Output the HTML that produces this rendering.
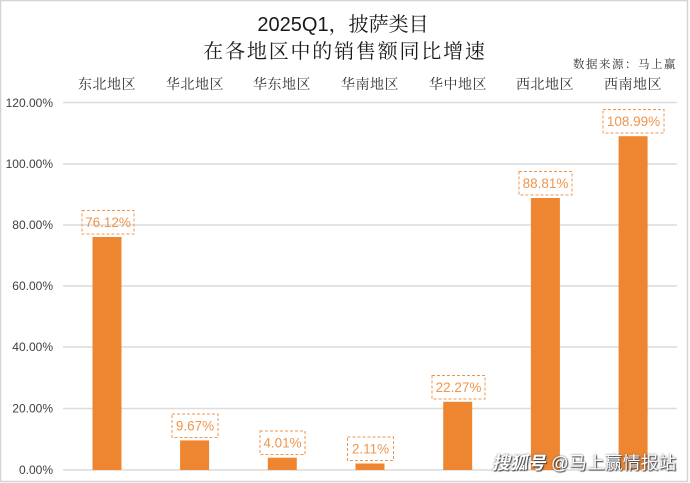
<!DOCTYPE html>
<html><head><meta charset="utf-8">
<style>
html,body{margin:0;padding:0;background:#fff;}
body{width:690px;height:483px;position:relative;overflow:hidden;}
svg{position:absolute;left:0;top:0;}
.wm{position:absolute;left:492px;top:450px;font-family:"Liberation Sans","Noto Sans CJK SC",sans-serif;font-size:17.5px;color:#fff;text-shadow:1px 1px 1px #444,0 0 2px #666;white-space:nowrap;letter-spacing:0.4px;}
.wm i{font-weight:bold;}
</style></head><body>
<svg width="690" height="483" viewBox="0 0 690 483" xmlns="http://www.w3.org/2000/svg">
<rect x="0.5" y="0.5" width="687" height="481" fill="#fff" stroke="#d4d4d4" stroke-width="1.5"/>
<g font-family="'Liberation Sans','Noto Serif CJK SC',serif" fill="#1a1a1a" text-anchor="middle">
<text x="343" y="31" font-size="20">2025Q1，披萨类目</text>
<text x="345" y="58" font-size="20" letter-spacing="1.8">在各地区中的销售额同比增速</text>
</g>
<text x="677" y="68" font-size="11.5" letter-spacing="1.5" text-anchor="end" fill="#333" font-family="'Liberation Sans','Noto Serif CJK SC',serif">数据来源：马上赢</text>
<g font-family="'Liberation Sans','Noto Serif CJK SC',serif" font-size="14" fill="#333" text-anchor="middle" letter-spacing="0.5">
<text x="107" y="89">东北地区</text>
<text x="195" y="89">华北地区</text>
<text x="282" y="89">华东地区</text>
<text x="370" y="89">华南地区</text>
<text x="458" y="89">华中地区</text>
<text x="545" y="89">西北地区</text>
<text x="633" y="89">西南地区</text>
</g>
<g stroke="#dcdcdc" stroke-width="1.5">
<line x1="63" y1="102.5" x2="677" y2="102.5"/>
<line x1="63" y1="164" x2="677" y2="164"/>
<line x1="63" y1="225" x2="677" y2="225"/>
<line x1="63" y1="286" x2="677" y2="286"/>
<line x1="63" y1="347" x2="677" y2="347"/>
<line x1="63" y1="408.5" x2="677" y2="408.5"/>
<line x1="63" y1="470" x2="677" y2="470"/>
</g>
<g font-family="'Liberation Sans',sans-serif" font-size="12" fill="#404040" text-anchor="end">
<text x="53" y="107">120.00%</text>
<text x="53" y="168">100.00%</text>
<text x="53" y="229">80.00%</text>
<text x="53" y="290">60.00%</text>
<text x="53" y="351">40.00%</text>
<text x="53" y="412.5">20.00%</text>
<text x="53" y="474">0.00%</text>
</g>
<g fill="#EE8531">
<rect x="92.5" y="237" width="29" height="233"/>
<rect x="180.1" y="440.4" width="29" height="29.6"/>
<rect x="267.8" y="457.7" width="29" height="12.3"/>
<rect x="355.5" y="463.5" width="29" height="6.5"/>
<rect x="443.2" y="401.8" width="29" height="68.2"/>
<rect x="530.9" y="198" width="29" height="272"/>
<rect x="618.6" y="136.2" width="29" height="333.8"/>
</g>
<g fill="none" stroke="#F0954C" stroke-width="1" stroke-dasharray="3,2">
<rect x="82" y="210.5" width="52" height="23.5"/>
<rect x="172" y="414" width="46" height="23.5"/>
<rect x="260" y="431" width="45" height="23.5"/>
<rect x="347.5" y="437" width="46" height="23.5"/>
<rect x="432" y="375.5" width="53" height="23.5"/>
<rect x="519" y="171.5" width="53" height="23.5"/>
<rect x="603" y="109.5" width="61" height="23.5"/>
</g>
<g font-family="'Liberation Sans',sans-serif" font-size="13.5" fill="#F0954C" text-anchor="middle">
<text x="108" y="227">76.12%</text>
<text x="195" y="430.5">9.67%</text>
<text x="282.5" y="447.5">4.01%</text>
<text x="370.5" y="453.5">2.11%</text>
<text x="458.5" y="392">22.27%</text>
<text x="545.5" y="188">88.81%</text>
<text x="633.5" y="126">108.99%</text>
</g>
</svg>
<div class="wm"><i>搜狐号</i> @马上赢情报站</div>
</body></html>
